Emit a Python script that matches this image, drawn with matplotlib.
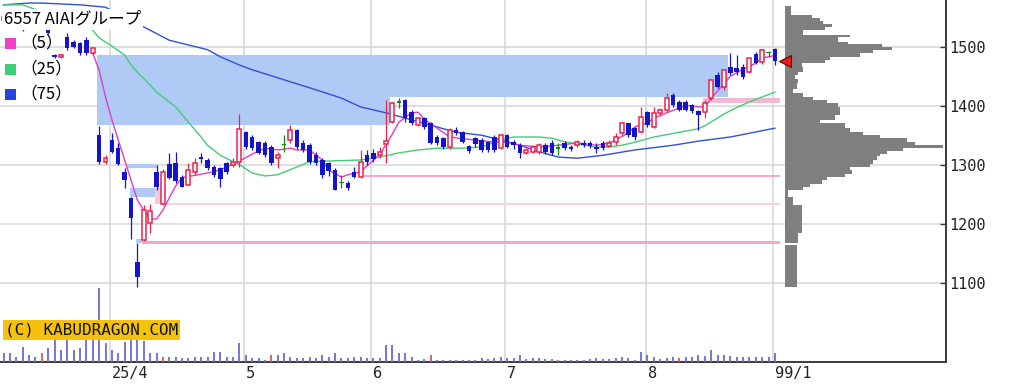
import matplotlib
matplotlib.use("Agg")
import matplotlib.pyplot as plt
import matplotlib.transforms as mtrans
from matplotlib.patches import Rectangle
import numpy as np

plt.rcParams['font.family'] = ['Noto Sans CJK JP', 'DejaVu Sans']

title = "6557 AIAIグループ"

# daily candles, index 0 = first trading day shown (March 2025)
opens = [1545, 1550, 1545, 1540, 1538, 1545, 1540, 1535, 1486, 1483,
         1516, 1508, 1506, 1511, 1489, 1350, 1304, 1342, 1328, 1288,
         1243, 1135, 1172, 1201, 1288, 1233, 1302, 1303, 1279, 1266,
         1287, 1313, 1308, 1296, 1294, 1303, 1300, 1305, 1355, 1347,
         1338, 1336, 1330, 1311, 1334, 1342, 1359, 1337, 1333, 1316,
         1308, 1303, 1291, 1270, 1269, 1288, 1279, 1316, 1320, 1316,
         1335, 1372, 1406, 1409, 1390, 1367, 1379, 1370, 1347, 1345,
         1330, 1359, 1355, 1331, 1345, 1342, 1338, 1347, 1328, 1350,
         1338, 1333, 1320, 1322, 1322, 1333, 1337, 1328, 1337, 1330,
         1333, 1337, 1337, 1330, 1337, 1332, 1338, 1354, 1370, 1362,
         1355, 1389, 1364, 1387, 1393, 1418, 1406, 1406, 1401, 1391,
         1389, 1413, 1452, 1432, 1465, 1464, 1465, 1458, 1487, 1474,
         1490, 1496]
highs = [1558, 1555, 1552, 1548, 1550, 1552, 1548, 1540, 1488, 1488,
         1523, 1511, 1508, 1516, 1500, 1366, 1316, 1354, 1337, 1294,
         1245, 1167, 1232, 1234, 1300, 1293, 1320, 1322, 1283, 1303,
         1311, 1320, 1311, 1300, 1296, 1305, 1311, 1386, 1358, 1350,
         1341, 1340, 1333, 1322, 1350, 1367, 1360, 1342, 1337, 1322,
         1311, 1305, 1294, 1283, 1272, 1296, 1325, 1325, 1327, 1330,
         1410, 1406, 1413, 1411, 1392, 1381, 1381, 1372, 1350, 1347,
         1362, 1364, 1357, 1333, 1347, 1345, 1340, 1350, 1352, 1352,
         1342, 1337, 1328, 1333, 1337, 1337, 1342, 1337, 1340, 1333,
         1342, 1342, 1340, 1337, 1340, 1342, 1354, 1372, 1370, 1364,
         1398, 1391, 1398, 1396, 1421, 1421, 1409, 1409, 1403, 1393,
         1409, 1446, 1457, 1462, 1489, 1486, 1470, 1483, 1491, 1496,
         1492, 1498]
lows = [1540, 1538, 1535, 1526, 1533, 1534, 1531, 1521, 1481, 1481,
        1494, 1497, 1486, 1486, 1486, 1302, 1301, 1320, 1300, 1261,
        1174, 1093, 1171, 1184, 1257, 1232, 1276, 1269, 1262, 1265,
        1283, 1303, 1291, 1280, 1262, 1284, 1296, 1296, 1327, 1325,
        1318, 1313, 1300, 1294, 1322, 1337, 1327, 1322, 1301, 1299,
        1277, 1281, 1257, 1261, 1257, 1277, 1278, 1300, 1305, 1311,
        1303, 1370, 1396, 1372, 1368, 1365, 1361, 1335, 1334, 1327,
        1327, 1350, 1337, 1320, 1330, 1322, 1322, 1322, 1326, 1328,
        1327, 1311, 1318, 1320, 1318, 1318, 1316, 1317, 1325, 1323,
        1330, 1330, 1328, 1320, 1325, 1330, 1333, 1350, 1347, 1342,
        1354, 1364, 1362, 1383, 1389, 1398, 1391, 1391, 1388, 1359,
        1379, 1409, 1430, 1426, 1452, 1452, 1445, 1455, 1470, 1470,
        1483, 1469]
closes = [1550, 1545, 1540, 1535, 1545, 1540, 1536, 1524, 1483, 1486,
          1498, 1500, 1489, 1489, 1498, 1305, 1312, 1322, 1302, 1274,
          1210, 1110, 1223, 1222, 1262, 1288, 1278, 1272, 1263, 1291,
          1303, 1309, 1295, 1283, 1275, 1288, 1305, 1360, 1330, 1328,
          1320, 1317, 1303, 1316, 1334, 1359, 1330, 1325, 1305, 1303,
          1283, 1289, 1258, 1270, 1261, 1280, 1305, 1305, 1309, 1322,
          1340, 1404, 1406, 1380, 1370, 1379, 1364, 1337, 1337, 1330,
          1359, 1354, 1339, 1323, 1335, 1325, 1325, 1325, 1350, 1330,
          1333, 1320, 1325, 1330, 1333, 1322, 1320, 1328, 1328, 1326,
          1338, 1333, 1332, 1326, 1328, 1337, 1347, 1370, 1350, 1347,
          1381, 1367, 1387, 1393, 1413, 1401, 1393, 1393, 1391, 1384,
          1404, 1443, 1432, 1460, 1455, 1457, 1449, 1481, 1472, 1494,
          1490, 1475]
volume = [8.4, 8.4, 5, 15, 6.7, 5, 9, 13.4, 22.4, 11.7,
          22.4, 11.7, 13.4, 22.4, 22.4, 73.4, 18.4, 11.7, 8.4, 20,
          22.4, 22.4, 20.7, 8.4, 8.4, 5, 5, 5, 3.4, 3.4,
          5, 5, 5, 10, 10, 5, 5, 18.4, 6.7, 4,
          4, 1.7, 6.7, 6.7, 8.4, 5, 3.4, 3.4, 5, 3.4,
          6.7, 5, 8.4, 3.4, 3.4, 5, 5, 3.4, 3.4, 3.4,
          16.7, 16.7, 9, 8.4, 5, 1.7, 2.3, 6.7, 1.7, 1.7,
          1.7, 1.7, 1.7, 1.7, 1.7, 3.4, 2.3, 3.4, 5, 3.4,
          3.4, 6.7, 2.3, 3.4, 3.4, 2.3, 2.3, 1.7, 1.7, 1.7,
          1.7, 1.7, 2.3, 3.4, 2.3, 2.3, 3.4, 4.4, 3.4, 1.7,
          10, 6.7, 5, 2.3, 3.4, 5, 3.4, 5, 4.4, 6.7,
          5.7, 11.7, 6.7, 6.7, 5.7, 4.4, 4.4, 4.4, 4.4, 4.4,
          5, 8.4]
vol_red_days = [6, 25, 42, 67, 87, 106]

month_start = [17, 38, 58, 79, 101, 121]
month_labels = ["25/4", "5", "6", "7", "8", "99/1"]
price_ticks = [1100, 1200, 1300, 1400, 1500]

# moving averages
ma5_day = [14, 15, 16, 17, 18, 19, 20, 21, 22, 23, 24, 25, 26, 27, 28, 31, 33, 35, 37,
           39, 41, 43, 45, 46, 48, 50, 51, 53, 54, 56, 57, 59, 61, 62, 64, 65, 66, 68,
           70, 72, 74, 77, 79, 81, 84, 87, 90, 93, 95, 96, 98, 99, 101, 102, 104, 106,
           107, 109, 110, 111, 113, 114, 116, 118, 119, 121]
ma5_val = [1489, 1460, 1415, 1376, 1342, 1308, 1274, 1240, 1223, 1208, 1208, 1223, 1244,
           1264, 1278, 1284, 1288, 1296, 1306, 1318, 1328, 1325, 1328, 1325, 1325, 1308,
           1291, 1279, 1283, 1288, 1298, 1317, 1352, 1372, 1388, 1389, 1377, 1362, 1347,
           1344, 1342, 1338, 1338, 1333, 1330, 1333, 1337, 1333, 1337, 1342, 1354, 1364,
           1371, 1379, 1388, 1396, 1401, 1398, 1398, 1413, 1437, 1450, 1462, 1472, 1481,
           1485]
ma25_day = [0, 3, 14, 15, 17, 19, 20, 21, 23, 24, 27, 29, 31, 32, 34, 37, 39, 41, 43, 46,
            48, 50, 56, 59, 62, 65, 68, 72, 75, 78, 80, 84, 86, 88, 90, 93, 95, 97, 99,
            102, 106, 109, 110, 113, 115, 118, 121]
ma25_val = [1571, 1571, 1528, 1515, 1501, 1486, 1469, 1457, 1435, 1423, 1398, 1372, 1347,
            1333, 1316, 1300, 1286, 1281, 1283, 1296, 1305, 1306, 1308, 1313, 1320, 1325,
            1328, 1328, 1330, 1342, 1347, 1347, 1345, 1339, 1335, 1330, 1330, 1333, 1338,
            1347, 1355, 1361, 1366, 1386, 1397, 1411, 1423]
ma75_day = [0, 4, 6, 12, 16, 23, 26, 29, 32, 34, 37, 39, 49, 53, 56, 60, 63, 67, 71, 75,
            78, 81, 84, 87, 90, 94, 99, 105, 109, 114, 121]
ma75_val = [1571, 1574, 1574, 1571, 1567, 1528, 1511, 1503, 1495, 1483, 1469, 1461, 1427,
            1413, 1398, 1388, 1379, 1367, 1355, 1350, 1342, 1333, 1322, 1313, 1311, 1316,
            1325, 1333, 1340, 1347, 1362]

# open price gaps (blue = down gap, pink = up gap): left day, right day, low, high
gap_dn_x0 = [14.7, 60.6, 19.4, 19.8, 20.8]
gap_dn_x1 = [60.6, 113.7, 24.1, 23.8, 21.7]
gap_dn_lo = [1367, 1415, 1294, 1245, 1167]
gap_dn_hi = [1486, 1486, 1301, 1261, 1174]
gap_up_x0 = [23.8, 25.3, 21.7, 56.4, 109.7]
gap_up_x1 = [25.3, 121.8, 121.8, 121.8, 121.8]
gap_up_lo = [1233, 1232, 1166, 1279, 1405]
gap_up_hi = [1260, 1235, 1171, 1283, 1413]
gap_up_col = ['#f7c9dc', '#f7cfe0', '#f2a9c8', '#f2a9c8', '#f4b8d2']

# volume-by-price profile: band top, band bottom, size
prof_hi = [1569, 1554, 1548, 1544, 1538, 1534, 1528, 1520, 1516, 1508, 1504, 1500, 1494,
           1490, 1483, 1477, 1472, 1466, 1458, 1452, 1446, 1438, 1429, 1421, 1415, 1410,
           1404, 1398, 1384, 1376, 1370, 1362, 1356, 1350, 1345, 1339, 1333, 1328, 1324,
           1319, 1314, 1308, 1302, 1297, 1291, 1285, 1280, 1274, 1268, 1263, 1257, 1246,
           1232, 1184, 1164]
prof_lo = prof_hi[1:54] + [1167, 1093]
prof_vol = [5.7, 26.7, 35, 38.3, 46.7, 40, 18.3, 65, 53.3, 63.3, 96.7, 106.7, 88.3, 75, 45,
            40, 16.7, 18.3, 13.3, 10, 13.3, 11.7, 8.3, 18.3, 28.3, 41.7, 53.3, 55, 50, 35,
            60, 65, 78.3, 95, 121.7, 130, 158.3, 118.3, 101.7, 95, 91.7, 88.3, 85, 65, 66.7,
            60, 41.7, 36.7, 25, 18.3, 3.3, 8.3, 16.7, 13.3, 11.7]

W, H = 1015, 387
fig = plt.figure(figsize=(W / 100, H / 100), dpi=100)
ax = fig.add_axes([0, 25.5 / H, 945.5 / W, 361.5 / H])
ax.set_xlim(-0.55, 147.75)
ax.set_ylim(966.5, 1579.2)

o = np.array(opens, float)
h = np.array(highs, float)
l = np.array(lows, float)
c = np.array(closes, float)
idx = np.arange(len(c))
up = c > o
dn = c < o
flat = c == o

RED, BLUE, GREEN = '#e8244e', '#1414cc', '#138a13'

for x0, x1, lo, hi in zip(gap_dn_x0, gap_dn_x1, gap_dn_lo, gap_dn_hi):
    ax.add_patch(Rectangle((x0, lo), x1 - x0, hi - lo, fc='#aecaf5', ec='none', zorder=1))
for x0, x1, lo, hi, col in zip(gap_up_x0, gap_up_x1, gap_up_lo, gap_up_hi, gap_up_col):
    ax.add_patch(Rectangle((x0, lo), x1 - x0, hi - lo, fc=col, ec='none', zorder=1))

ax.plot(ma75_day, ma75_val, color='#3050d8', lw=1.0, zorder=3)
ax.plot(ma25_day, ma25_val, color='#44cc77', lw=1.0, zorder=3)
ax.plot(ma5_day, ma5_val, color='#e43cc4', lw=1.0, zorder=3)

wick_col = np.where(up, RED, np.where(dn, BLUE, GREEN))
ax.vlines(idx, l, h, colors=wick_col, lw=0.9, zorder=4)
ax.bar(idx[dn], np.maximum((o - c)[dn], 3), bottom=c[dn], width=0.7,
       color=BLUE, zorder=5)
ax.bar(idx[up], np.maximum((c - o)[up], 3), bottom=o[up], width=0.62,
       facecolor='white', edgecolor=RED, lw=1.1, zorder=5)
ax.bar(idx[flat], 2.5, bottom=o[flat] - 1.25, width=0.7, color=GREEN, zorder=5)

# axes look
ax.set_yticks(price_ticks)
ax.set_xticks(np.array(month_start) - 0.3)
ax.set_xticklabels(month_labels, ha='left')
ax.grid(True, color='#d6d6d6', lw=1.1, zorder=0)
ax.set_axisbelow(True)
for s in ('left', 'top'):
    ax.spines[s].set_visible(False)
for s in ('right', 'bottom'):
    ax.spines[s].set_color('#3a3a3a')
    ax.spines[s].set_linewidth(1.4)

# volume
axv = ax.twinx()
axv.set_ylim(0, 361.5)
vcol = ['#d25a5a' if i in vol_red_days else '#6a6ad6' for i in idx]
axv.vlines(idx, 0, volume, colors=vcol, lw=1.3)
axv.set_axis_off()

# price profile
axp = ax.twiny()
axp.set_xlim(-785, 160.5)
axp.barh(prof_lo, prof_vol, height=np.array(prof_hi) - np.array(prof_lo), left=0,
         align='edge', color='#7f7f7f', lw=0)
axp.plot([0.5], [closes[-1]], marker='<', ms=8, mfc='#e81c1c', mec='#700000', mew=0.8,
         ls='none', zorder=6)
axp.set_axis_off()

ax.yaxis.tick_right()
ax.tick_params(axis='y', direction='in', length=4, width=1, pad=3, labelsize=11,
               labelcolor='#222222', color='#3a3a3a', labelfontfamily='DejaVu Sans Mono')
ax.tick_params(axis='x', length=0, pad=3.5, labelsize=11, labelcolor='#222222',
               labelfontfamily='DejaVu Sans Mono')
shift = mtrans.ScaledTranslation(2 / 100, 0, fig.dpi_scale_trans)
for lab in ax.get_xticklabels():
    lab.set_transform(lab.get_transform() + shift)


def fx(px):
    return px / W


def fy(py):
    return 1 - py / H


fig.text(fx(4), fy(19), title, fontsize=12, va='center', ha='left',
         bbox=dict(fc='white', ec='none', pad=1.5))
leg_labels = ['（5）', '（25）', '（75）']
leg_cols = ['#f040c8', '#3ccf78', '#2244e0']
for lab, col, cy in zip(leg_labels, leg_cols, [43, 69, 94]):
    fig.add_artist(Rectangle((fx(5), fy(cy + 5.5)), 11 / W, 11 / H,
                             transform=fig.transFigure, fc=col, ec='none'))
    fig.text(fx(20), fy(cy), lab, fontsize=12, va='center', ha='left')

fig.text(fx(5), fy(330), "(C) KABUDRAGON.COM", fontsize=11.5, va='center', ha='left',
         family='DejaVu Sans Mono', color='#111111',
         bbox=dict(fc='#f4c20d', ec='none', pad=1.5))

fig.savefig('out.png', dpi=100)
